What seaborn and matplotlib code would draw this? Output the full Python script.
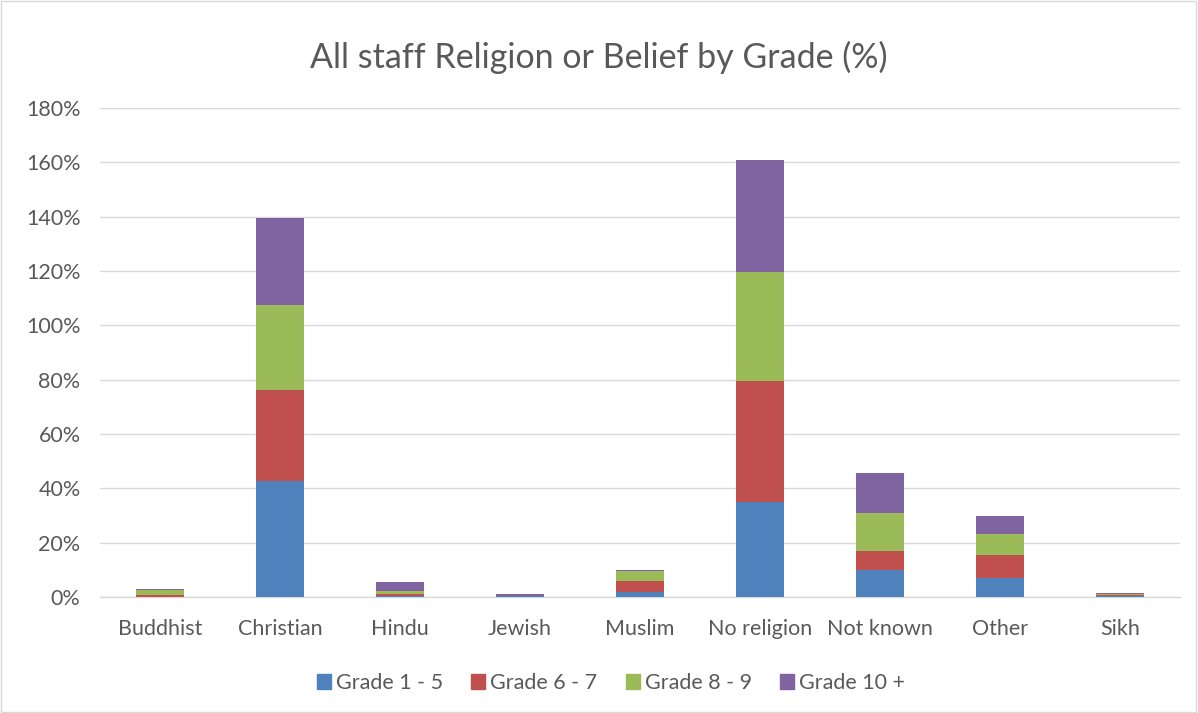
import numpy as np
import pandas as pd
import matplotlib.pyplot as plt
import seaborn as sns
from matplotlib.patches import Rectangle

# categories and series (% values)
religions = ['Buddhist', 'Christian', 'Hindu', 'Jewish', 'Muslim',
             'No religion', 'Not known', 'Other', 'Sikh']
grades = ['Grade 1 - 5', 'Grade 6 - 7', 'Grade 8 - 9', 'Grade 10 +']
grade_1_5 = [0.1, 42.8, 0.2, 0.2, 1.9, 35.0, 10.1, 7.1, 0.3]
grade_6_7 = [0.6, 33.4, 0.9, 0.2, 4.1, 44.5, 7.0, 8.3, 0.3]
grade_8_9 = [1.8, 31.3, 1.1, 0.1, 3.5, 40.1, 13.8, 7.8, 0.6]
grade_10p = [0.4, 32.0, 3.3, 0.5, 0.5, 41.2, 14.6, 6.7, 0.2]
colors = ['#4F81BD', '#C0504D', '#9BBB59', '#8064A2']

df = pd.DataFrame({'Religion': religions, grades[0]: grade_1_5, grades[1]: grade_6_7,
                   grades[2]: grade_8_9, grades[3]: grade_10p})
cum = df[grades].cumsum(axis=1)

sns.set_style('white')
plt.rcParams['font.family'] = ['Lato', 'DejaVu Sans']
txt = '#595959'

fig = plt.figure(figsize=(11.98, 7.13), dpi=100)
ax = fig.add_axes([0.0835, 0.1627, 0.9015, 0.6858])

# stacked bars: draw cumulative totals from top to bottom
for g, c in reversed(list(zip(grades, colors))):
    sns.barplot(x=df['Religion'], y=cum[g], color=c, width=0.4, ax=ax,
                saturation=1, edgecolor='none', zorder=3)

ax.set_ylim(0, 180)
ax.set_xlim(-0.5, 8.5)
ax.set_yticks(np.arange(0, 181, 20))
ax.set_yticklabels([f'{v}%' for v in range(0, 181, 20)])
ax.yaxis.grid(True, color='#D9D9D9', linewidth=1, zorder=0)
ax.set_xlabel('')
ax.set_ylabel('')
for s in ['top', 'right', 'left']:
    ax.spines[s].set_visible(False)
ax.spines['bottom'].set_color('#D9D9D9')
ax.spines['bottom'].set_linewidth(1)
ax.tick_params(axis='both', length=0, labelsize=15.5, colors=txt)
ax.tick_params(axis='x', pad=16)
ax.tick_params(axis='y', pad=14)

fig.suptitle('All staff Religion or Belief by Grade (%)', y=0.92, va='center',
             fontsize=24.5, color=txt)

handles = [Rectangle((0, 0), 1, 1, color=c) for c in colors]
fig.legend(handles, grades, loc='center', bbox_to_anchor=(0.51, 0.042), ncol=4,
           frameon=False, fontsize=15.5, labelcolor=txt, handlelength=0.65,
           handleheight=0.65, handletextpad=0.25, columnspacing=1.3)

# light chart border
fig.patches.append(Rectangle((0.001, 0.001), 0.997, 0.997, transform=fig.transFigure,
                             fill=False, edgecolor='#D9D9D9', linewidth=1))

plt.savefig('out.png', dpi=100)
